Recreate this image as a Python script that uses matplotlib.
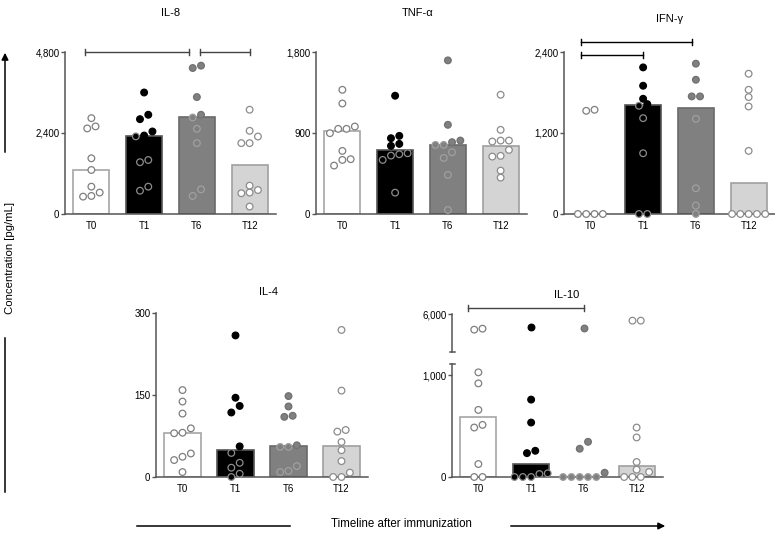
import numpy as np
import matplotlib
matplotlib.use('Agg')
import matplotlib.pyplot as plt
from matplotlib.ticker import FuncFormatter

plt.rcParams['font.family'] = ['Liberation Sans', 'DejaVu Sans']

W, H = 775, 533
groups = ['T0', 'T1', 'T6', 'T12']

# IL-8
il8_points = [
    [2840, 2535, 2595, 1650, 1305, 810, 635, 515, 535],
    [3600, 2940, 2810, 2445, 2300, 2325, 1600, 1535, 690, 810],
    [4395, 4325, 3465, 2940, 2860, 2525, 2100, 535, 730],
    [3090, 2465, 2295, 2100, 2100, 840, 615, 635, 710, 220],
]
il8_median = [1305, 2300, 2860, 1455]

# TNF-alpha
tnf_points = [
    [1380, 1228, 946, 898, 946, 972, 701, 609, 538, 601],
    [1314, 842, 868, 757, 779, 675, 649, 601, 664, 237],
    [1707, 991, 816, 768, 768, 798, 686, 623, 434, 45],
    [1325, 935, 816, 805, 816, 712, 646, 638, 482, 404],
]
tnf_median = [924, 712, 768, 761]

# IFN-gamma
ifn_points = [
    [1544, 1529, 0, 0, 0, 0],
    [2172, 1900, 1707, 1628, 1603, 1420, 900, 0, 0],
    [2227, 1989, 1742, 1742, 1410, 381, 124, 0],
    [2078, 1840, 1732, 1593, 935, 0, 0, 0, 0, 0],
]
ifn_median = [0, 1613, 1568, 465]

# IL-4
il4_points = [
    [159, 138, 116, 89, 80, 81, 43, 37, 31, 9],
    [259, 145, 130, 118, 56, 44, 26, 17, 6, 0],
    [148, 129, 110, 112, 55, 55, 58, 20, 9, 11],
    [269, 158, 86, 83, 64, 49, 29, 8, 0, 0],
]
il4_median = [81, 50, 57, 57]

# IL-10
il10_points = [
    [5175, 5228, 1026, 918, 658, 485, 511, 127, 0, 0],
    [5316, 759, 534, 257, 234, 36, 29, 0, 0, 0],
    [5263, 345, 277, 42, 0, 0, 0, 0, 0],
    [5649, 5649, 485, 388, 147, 72, 49, 0, 0, 0],
]
il10_median = [590, 127, 0, 107]

bar_face = ['white', 'black', '#808080', '#d4d4d4']
bar_edge = ['#a6a6a6', '#555555', '#6a6a6a', '#a0a0a0']
pt_face = ['white', 'black', '#808080', 'white']
pt_edge_out = ['#7f7f7f', 'black', '#707070', '#8c8c8c']
pt_edge_in = ['#7f7f7f', '#8c8c8c', '#a0a0a0', '#8c8c8c']
axis_col = '#555555'


def rect(l, t, r, b):
    return [l / W, 1 - b / H, (r - l) / W, (b - t) / H]


def swarm(vals, px_per_unit, x_px_per_unit, thr=7.0, step=8.3):
    vals = np.asarray(vals, dtype=float)
    order = np.argsort(vals, kind='stable')
    rows = []
    for i in order:
        if rows and (vals[i] - vals[rows[-1][0]]) * px_per_unit < thr:
            rows[-1].append(i)
        else:
            rows.append([i])
    offs = np.zeros(len(vals))
    for r in rows:
        n = len(r)
        for k, i in enumerate(r):
            offs[i] = (k - (n - 1) / 2) * step / x_px_per_unit
    return offs


def style_axis(ax, ylim, ticks, show_x=True):
    ax.set_xlim(-0.5, 3.5)
    ax.set_ylim(*ylim)
    ax.set_yticks(ticks)
    ax.yaxis.set_major_formatter(FuncFormatter(lambda v, p: f'{v:,.0f}'))
    for s in ['top', 'right']:
        ax.spines[s].set_visible(False)
    for s in ['left', 'bottom']:
        ax.spines[s].set_color(axis_col)
        ax.spines[s].set_linewidth(1.1)
    ax.tick_params(axis='y', length=3, width=1, color=axis_col, pad=1, labelsize=7)
    if show_x:
        ax.set_xticks(range(4))
        ax.set_xticklabels(groups)
        ax.tick_params(axis='x', length=0, pad=5, labelsize=7)
    else:
        ax.spines['bottom'].set_visible(False)
        ax.set_xticks([])


def draw_points(ax, points, medians, ylim, hpx, clip=False):
    px_per_unit = hpx / (ylim[1] - ylim[0])
    for g in range(4):
        v = np.array(points[g], dtype=float)
        v = v[(v >= ylim[0]) & (v <= ylim[1])]
        if len(v) == 0:
            continue
        x = g + swarm(v, px_per_unit, 52.7)
        ec = [pt_edge_out[g] if val > medians[g] + 1e-9 else pt_edge_in[g] for val in v]
        ax.scatter(x, v, s=23, facecolor=pt_face[g], edgecolor=ec, linewidth=0.9,
                   zorder=3, clip_on=clip)


def draw_bars(ax, medians):
    ax.bar(range(4), medians, width=0.68, color=bar_face, edgecolor=bar_edge,
           linewidth=1.2, zorder=2)


def bracket(ax, x0, x1, y, cap_px, hpx, ylim, color='#444444'):
    dy = cap_px * (ylim[1] - ylim[0]) / hpx
    ax.plot([x0, x1], [y, y], color=color, lw=1.0, clip_on=False, zorder=4)
    for xx in (x0, x1):
        ax.plot([xx, xx], [y - dy, y + dy], color=color, lw=1.0, clip_on=False, zorder=4)


fig = plt.figure(figsize=(W / 100, H / 100), dpi=100)

panels = [
    ('IL-8', il8_points, il8_median, (0, 4800), [0, 2400, 4800], (65, 52, 276, 214), (171, 13)),
    ('TNF-α', tnf_points, tnf_median, (0, 1800), [0, 900, 1800], (316, 52, 527, 214), (418, 13)),
    ('IFN-γ', ifn_points, ifn_median, (0, 2400), [0, 1200, 2400], (564, 52, 775, 214), (670, 19)),
    ('IL-4', il4_points, il4_median, (0, 300), [0, 150, 300], (156, 313, 368, 477), (268, 292)),
]
axes = {}
for name, pts, med, ylim, ticks, (l, t, r, b), (tx, ty) in panels:
    ax = fig.add_axes(rect(l, t, r, b))
    style_axis(ax, ylim, ticks)
    draw_bars(ax, med)
    draw_points(ax, pts, med, ylim, b - t)
    fig.text(tx / W, 1 - ty / H, name, ha='center', va='center', fontsize=8)
    axes[name] = (ax, ylim, b - t)

# significance brackets
ax, ylim, hpx = axes['IL-8']
bracket(ax, -0.13, 1.85, 4800, 3, hpx, ylim)
bracket(ax, 2.06, 3.0, 4800, 3, hpx, ylim)
ax, ylim, hpx = axes['IFN-γ']
bracket(ax, -0.18, 1.0, 2350, 3, hpx, ylim, color='black')
bracket(ax, -0.18, 1.92, 2548, 3, hpx, ylim, color='black')

# IL-10 with broken axis
lo_lim, hi_lim = (0, 1108), (4000, 6000)
ax_lo = fig.add_axes(rect(452, 364, 663, 477))
style_axis(ax_lo, lo_lim, [0, 1000])
draw_bars(ax_lo, il10_median)
draw_points(ax_lo, il10_points, il10_median, lo_lim, 477 - 364, clip=False)
ax_hi = fig.add_axes(rect(452, 314, 663, 352))
style_axis(ax_hi, hi_lim, [6000], show_x=False)
draw_points(ax_hi, il10_points, il10_median, hi_lim, 352 - 314, clip=False)
cap = 2.5 / (663 - 452)
ax_lo.plot([-cap, cap], [1, 1], transform=ax_lo.transAxes, color=axis_col, lw=1.1, clip_on=False)
ax_hi.plot([-cap, cap], [0, 0], transform=ax_hi.transAxes, color=axis_col, lw=1.1, clip_on=False)
bracket(ax_hi, -0.19, 2.0, 6000 + 6 * 2000 / 38, 3, 38, hi_lim)
fig.text(567 / W, 1 - 295 / H, 'IL-10', ha='center', va='center', fontsize=8)

# y label with arrow
fig.text(10 / W, 1 - 258 / H, 'Concentration [pg/mL]', rotation=90,
         ha='center', va='center', fontsize=8.2)
fig.add_artist(matplotlib.patches.FancyArrowPatch(
    (5 / W, 1 - 155 / H), (5 / W, 1 - 50 / H), transform=fig.transFigure,
    arrowstyle='-|>', mutation_scale=10, color='black', lw=1.1))
fig.add_artist(matplotlib.lines.Line2D([5 / W, 5 / W], [1 - 338 / H, 1 - 492 / H],
                                       transform=fig.transFigure, color='black', lw=1.1))

# timeline at the bottom
fig.add_artist(matplotlib.lines.Line2D([137 / W, 290 / W], [1 - 526 / H, 1 - 526 / H],
                                       transform=fig.transFigure, color='black', lw=1.1))
fig.text(401 / W, 1 - 524 / H, 'Timeline after immunization', ha='center', va='center',
         fontsize=8.3)
fig.add_artist(matplotlib.patches.FancyArrowPatch(
    (508 / W, 1 - 526 / H), (668 / W, 1 - 526 / H), transform=fig.transFigure,
    arrowstyle='-|>', mutation_scale=10, color='black', lw=1.1))

plt.savefig('out.png', dpi=100)
